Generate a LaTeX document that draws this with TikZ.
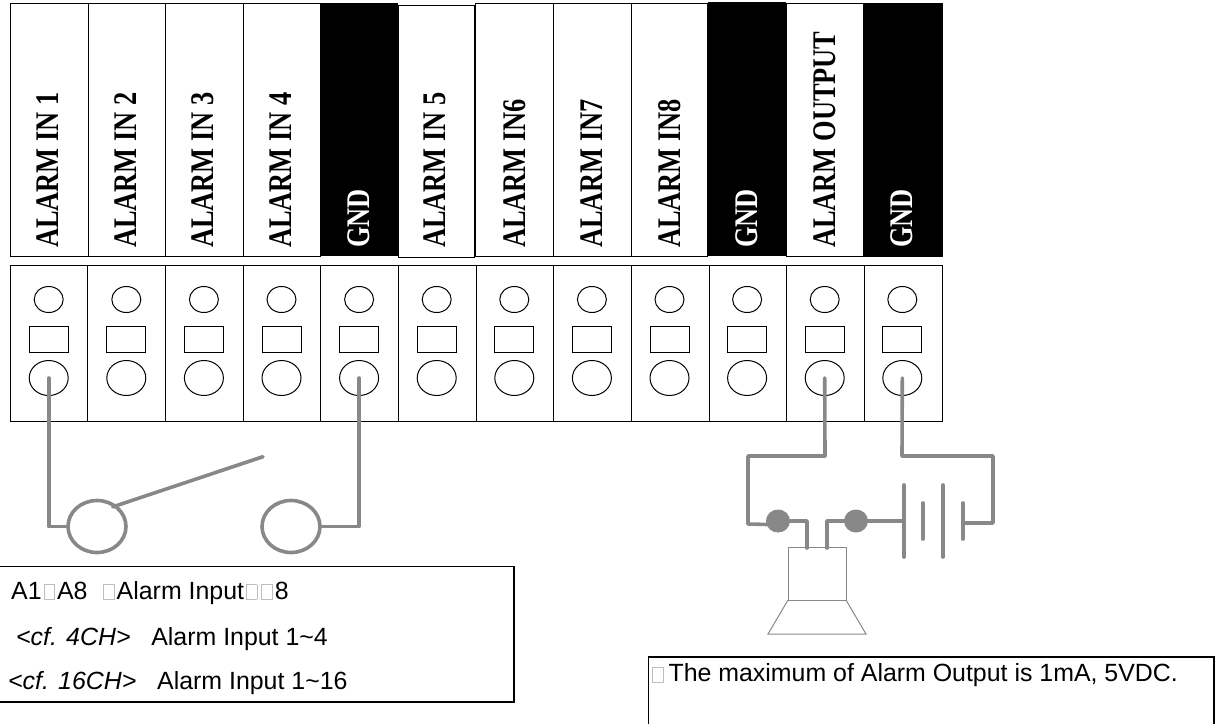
\documentclass[tikz,border=0pt]{standalone}
\usepackage{fontspec}
\setmainfont{Liberation Sans}
\newfontfamily\termfont[FakeStretch=0.8]{Liberation Serif}
\usepackage{tikz}
\usetikzlibrary{
    positioning,
    shapes.geometric
}
\definecolor{wireGray}{RGB}{136, 136, 136}
\definecolor{tofuGray}{RGB}{190, 190, 190}
\newcommand{\tofu}{\kern2pt\textcolor{tofuGray}{\fboxsep=0pt\fboxrule=0.7pt\fbox{\phantom{\rule{10pt}{14pt}}}}\kern2pt}
\tikzset{
    cellbox/.style={draw, line width=1pt},
    termlabel/.style={rotate=90, anchor=base west, inner sep=0pt, font=\termfont\bfseries\fontsize{33}{33}\selectfont},
    wire/.style={draw=wireGray, line width=3.6pt, line join=round, line cap=round},
    thinwire/.style={draw=wireGray, line width=1pt},
    holesmall/.style={ellipse, draw, line width=1pt, inner sep=0pt, minimum width=29pt, minimum height=26pt},
    holelarge/.style={ellipse, draw, line width=1pt, inner sep=0pt, minimum width=39pt, minimum height=35pt},
    holeslot/.style={rectangle, draw, line width=1pt, inner sep=0pt, minimum width=39pt, minimum height=26pt},
    contact/.style={ellipse, wire, fill=white, inner sep=0pt, minimum width=58pt, minimum height=52pt},
    joint/.style={ellipse, fill=wireGray, inner sep=0pt, minimum width=24pt, minimum height=23pt},
    notebox/.style={draw, line width=1.1pt},
    notetext/.style={anchor=base west, inner sep=0pt, font=\fontsize{24.9}{24.9}\selectfont}
}
\begin{document}
\begin{tikzpicture}[x=1pt, y=-1pt]
    \useasboundingbox (0,0) rectangle (1215,723);

    % upper strip
    \foreach \x/\w in {10/78, 88/77, 165/78, 243/77}
        \draw[cellbox] (\x,3) rectangle ++(\w,253);
    \draw[cellbox] (398,5) rectangle (474.5,257);
    \draw[cellbox] (475.5,3) rectangle (553,256);
    \draw[cellbox] (553,3) rectangle (631,256);
    \draw[cellbox] (631,3) rectangle (707.5,256);
    \draw[cellbox] (786,3) rectangle (942.5,256);
    \fill (320.5,3) rectangle (398,256);
    \fill (707.5,2) rectangle (786,256);
    \fill (863,3) rectangle (942.5,256);

    \node[termlabel] (in1) at (58.5,248) {ALARM IN 1};
    \node[termlabel] (in2) at (136.5,248) {ALARM IN 2};
    \node[termlabel] (in3) at (213.5,248) {ALARM IN 3};
    \node[termlabel] (in4) at (291.5,248) {ALARM IN 4};
    \node[termlabel, white] (gnd1) at (369.5,248) {GND};
    \node[termlabel] (in5) at (445,248) {ALARM IN 5};
    \node[termlabel] (in6) at (525.5,248) {ALARM IN6};
    \node[termlabel] (in7) at (602,248) {ALARM IN7};
    \node[termlabel] (in8) at (680,248) {ALARM IN8};
    \node[termlabel, white] (gnd2) at (757,248) {GND};
    \node[termlabel] (out) at (835,248) {ALARM OUTPUT};
    \node[termlabel, white] (gnd3) at (912,248) {GND};

    % lower strip
    \foreach \n in {1,...,12} {
        \draw[cellbox] ({10+(\n-1)*77.67},265) rectangle ++(77.67,156);
        \node[holesmall] (up\n) at ({48.7+(\n-1)*77.6},299.5) {};
        \node[holeslot] (slot\n) at ({48.7+(\n-1)*77.6},339) {};
        \node[holelarge] (lo\n) at ({48.7+(\n-1)*77.6},378) {};
    }

    % switch
    \node[contact] (swa) at (97,526.5) {};
    \node[contact] (swb) at (291,526.5) {};
    \coordinate (swtip) at (263,456.7);
    \draw[wire] (lo1.center) |- (swa.west);
    \draw[wire] (lo5.center) |- (swb.east);
    \draw[wire] (swa.north east) ++(-6,0) -- (swtip);

    % alarm output
    \node[joint] (ja) at (778,521) {};
    \node[joint] (jb) at (856,521) {};
    \coordinate (jain) at (768,524.5);
    \coordinate (pa) at (807,548);
    \coordinate (pb) at (827,548);
    \coordinate (cella) at (904,521);
    \coordinate (celld) at (963,523);
    \draw[thinwire] (788,547) rectangle (846,600);
    \draw[thinwire] (788,600) -- (768,634) -- (866,634) -- (846,600);
    \draw[wire] (lo11.center) -- (825,456) -- (748,456) -- (748,524) -- (jain);
    \draw[wire] (lo12.center) -- (902,456) -- (993,456) -- (993,523) -- (celld);
    \draw[wire] (ja.east) -| (pa);
    \draw[wire] (jb.west) -| (pb);
    \draw[wire] (jb.east) -- (cella);
    \draw[wire] (904,485) -- (904,557);
    \draw[wire] (923,503) -- (923,539);
    \draw[wire] (943,485) -- (943,557);
    \draw[wire] (963,503) -- (963,539);

    % notes
    \draw[notebox] (-2,566.7) rectangle (514,702);
    \node[notetext] (n1) at (11,599) {A1\tofu A8\ \ \tofu Alarm Input\tofu\tofu 8};
    \node[notetext] (n2) at (16,645) {\textit{<cf. 4CH>}\ \ \ Alarm Input 1\textasciitilde 4};
    \node[notetext] (n3) at (8,689) {\textit{<cf. 16CH>}\ \ \ Alarm Input 1\textasciitilde 16};
    \draw[notebox] (648.7,657) rectangle (1214,730);
    \node[notetext] (n4) at (650,681.7) {\tofu\kern3pt The maximum of Alarm Output is 1mA, 5VDC.};
\end{tikzpicture}
\end{document}
